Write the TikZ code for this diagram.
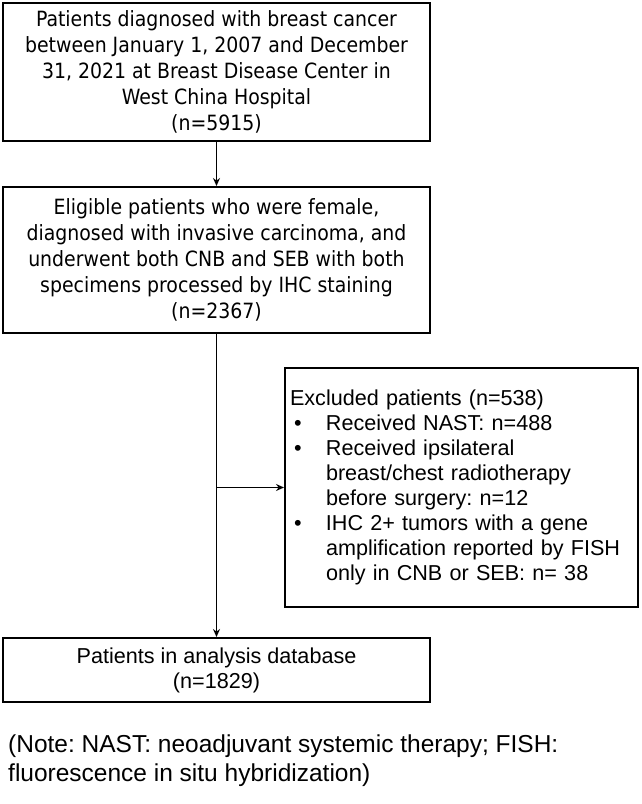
\documentclass[tikz,border=0pt]{standalone}
\usepackage{fontspec}
\setmainfont{Liberation Sans}
\newfontfamily\tah{DejaVu Sans Condensed}
\usetikzlibrary{arrows.meta}
\frenchspacing
\begin{document}
\begin{tikzpicture}[x=1pt,y=-1pt,
  box/.style={draw=black,line width=2pt,inner sep=0pt,align=center},
  tahbox/.style={box,font=\tah\fontsize{21}{26}\selectfont},
  arialbox/.style={box,font=\fontsize{21.6}{25}\selectfont},
  arr/.style={line width=1.6pt,-{Stealth[length=8pt,width=7pt]}}]
\useasboundingbox (0,0) rectangle (641,804);
\node[tahbox,minimum width=427pt,minimum height=138pt] (top) at (216.5,72)
  {\raisebox{-2pt}{\parbox{427pt}{\centering Patients diagnosed with breast cancer\\between January 1, 2007 and December\\31, 2021 at Breast Disease Center in\\West China Hospital\\(n=5915)}}};
\node[tahbox,minimum width=427pt,minimum height=146pt] (elig) at (216.5,260)
  {\raisebox{-2pt}{\parbox{427pt}{\centering Eligible patients who were female,\\diagnosed with invasive carcinoma, and\\underwent both CNB and SEB with both\\specimens processed by IHC staining\\(n=2367)}}};
\node[arialbox,minimum width=427pt,minimum height=64pt] (final) at (216.5,670)
  {Patients in analysis database\\(n=1829)};
\newcommand\bul{\makebox[36pt][l]{\hspace{4pt}•}}
\newcommand\cont{\hspace*{36pt}}
\node[arialbox,align=left,minimum width=353pt,minimum height=239pt,text width=343pt,inner xsep=5pt] (excl) at (461.5,487.5)
  {Excluded patients (n=538)\\
   \bul Received NAST: n=488\\
   \bul Received ipsilateral\\
   \cont breast/chest radiotherapy\\
   \cont before surgery: n=12\\
   \bul IHC 2+ tumors with a gene\\
   \cont amplification reported by FISH\\
   \cont only in CNB or SEB: n= 38};
\node[anchor=north west,inner sep=0pt,align=left,font=\fontsize{24.5}{28.5}\selectfont] (note) at (8,735)
  {(Note: NAST: neoadjuvant systemic therapy; FISH:\\fluorescence in situ hybridization)};
\draw[arr] (top) -- (elig);
\draw[arr] (elig) -- (final);
\coordinate (branch) at (elig.south |- excl.west);
\draw[arr] (branch) -- (excl.west);
\end{tikzpicture}
\end{document}
